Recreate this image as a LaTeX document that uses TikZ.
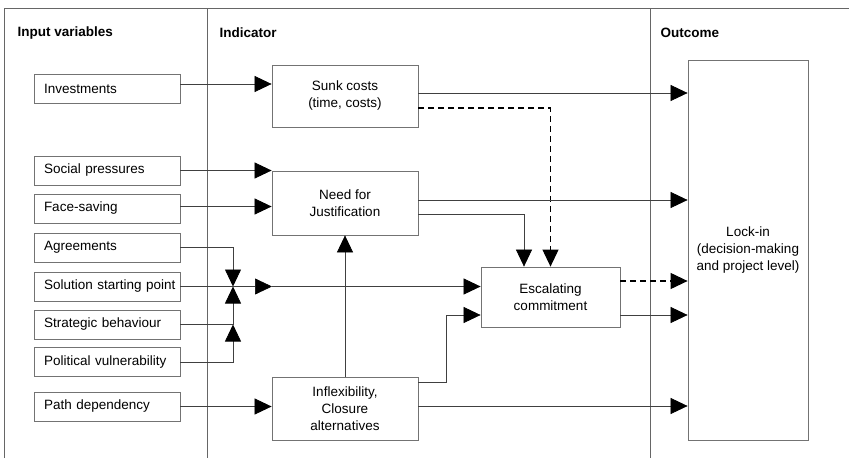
\documentclass[tikz,border=0pt]{standalone}
\usepackage{fontspec}
\setmainfont{Liberation Sans}
\usetikzlibrary{arrows.meta}
\begin{document}
\begin{tikzpicture}[x=1pt,y=-1pt,
  every node/.style={font=\fontsize{13.5}{17}\selectfont},
  inbox/.style={draw=black!55, line width=0.8pt, minimum height=29pt, text width=126pt, inner xsep=10pt, align=left, anchor=center},
  midbox/.style={draw=black!55, line width=0.8pt, minimum width=146pt, align=center, inner sep=0pt},
  conn/.style={draw=black!75, line width=0.7pt},
  arr/.style={conn, -{Triangle[length=17pt,width=16pt,color=black,fill=black]}},
  dsh/.style={draw=black, line width=1.1pt, dash pattern=on 6pt off 4pt},
  frameline/.style={draw=black!60, line width=0.8pt},
  title/.style={font=\fontsize{13.5}{17}\selectfont\bfseries, anchor=west}
]
\useasboundingbox (0,0) rectangle (849,458);
% frame
\draw[frameline] (4,458) -- (4,8) -- (849,8);
\draw[frameline] (207,8) -- (207,458);
\draw[frameline] (650,8) -- (650,458);
\node[title] (t1) at (14,33) {Input variables};
\node[title] (t2) at (216,33) {Indicator};
\node[title] (t3) at (657,33) {Outcome};
% input boxes
\node[inbox] (inv)  at (107,88.5) {Investments};
\node[inbox] (soc)  at (107,170.5) {Social pressures};
\node[inbox] (face) at (107,208.5) {Face-saving};
\node[inbox] (agr)  at (107,247.5) {Agreements};
\node[inbox] (sol)  at (107,286.5) {\mbox{Solution starting point}};
\node[inbox] (str)  at (107,324.5) {Strategic behaviour};
\node[inbox] (pol)  at (107,362) {Political vulnerability};
\node[inbox] (path) at (107,406.5) {Path dependency};
% indicator boxes
\node[midbox, minimum height=62pt] (sunk) at (345,96) {Sunk costs\\(time, costs)};
\node[midbox, minimum height=64pt] (need) at (345,203) {Need for\\Justification};
\node[midbox, minimum height=63pt] (infl) at (345,408.5) {Inflexibility,\\Closure\\alternatives};
\node[midbox, minimum width=139pt, minimum height=60pt] (esc) at (550.5,297) {Escalating\\commitment};
\node[midbox, minimum width=120pt, minimum height=380pt] (lock) at (748,250) {Lock-in\\(decision-making\\and project level)};
% junction coordinates
\coordinate (j) at (233,286.5);
\coordinate (m) at (272,286.5);
\coordinate (js) at (233,324.5);
% connectors
\draw[arr] ([yshift=4.5pt]inv.east) -- ([yshift=4.5pt]inv.east -| sunk.west);
\draw[arr] (soc.east) -- (soc.east -| need.west);
\draw[arr] ([yshift=2pt]face.east) -- ([yshift=2pt]face.east -| need.west);
\draw[arr] (path.east) -- (path.east -| infl.west);
\draw[arr] (agr.east) -| (j);
\draw[arr] (str.east) -| (j);
\draw[arr] (pol.east) -| (js);
\draw[arr] (sol.east) -- (m);
\draw[arr] (m) -- (m -| esc.west);
\draw[arr] ([yshift=3pt]sunk.east) -- ([yshift=3pt]sunk.east -| lock.west);
\draw[arr, dsh] ([yshift=-12pt]sunk.east) -| (esc.north);
\draw[arr] ([yshift=3pt]need.east) -- ([yshift=3pt]need.east -| lock.west);
\draw[arr] ([yshift=-11pt]need.east) -| ([xshift=-26.5pt]esc.north);
\draw[arr] (infl.north) -- (need.south);
\draw[arr] ([yshift=26.5pt]infl.east) -| ([xshift=-34pt,yshift=-18pt]esc.west) -- ([yshift=-18pt]esc.west);
\draw[arr] ([yshift=2.5pt]infl.east) -- ([yshift=2.5pt]infl.east -| lock.west);
\draw[arr, dsh] ([yshift=16pt]esc.east) -- ([yshift=16pt]esc.east -| lock.west);
\draw[arr] ([yshift=-18pt]esc.east) -- ([yshift=-18pt]esc.east -| lock.west);
\end{tikzpicture}
\end{document}
